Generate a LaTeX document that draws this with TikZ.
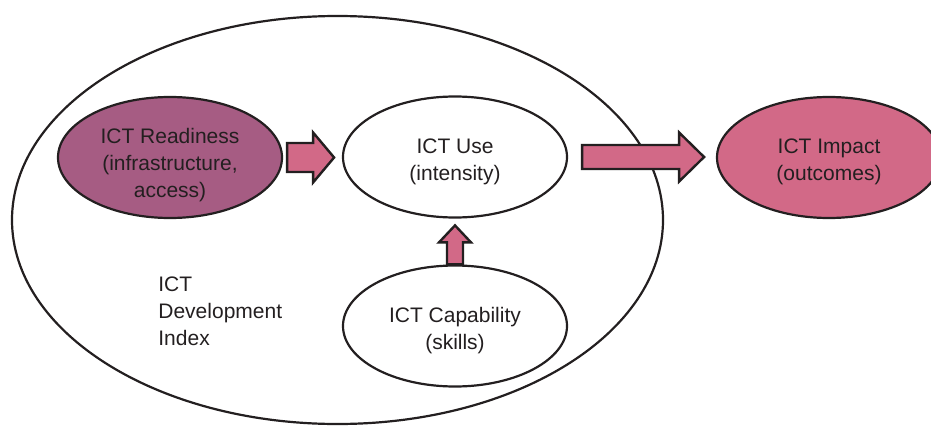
\documentclass[tikz,border=0pt]{standalone}
\usepackage{fontspec}
\setmainfont{Liberation Sans}
\usetikzlibrary{shapes,calc,positioning}

\definecolor{plum}{RGB}{166,92,131}
\definecolor{rose}{RGB}{210,105,135}
\definecolor{ink}{RGB}{35,31,32}

% fat block arrow: start, angle, length, shaft half width, head half width, head length
\newcommand{\blockarrow}[6]{%
  \draw[block arrow, shift={(#1)}, rotate=#2]
    (0,-#4) -- (#3-#6,-#4) -- (#3-#6,-#5) -- (#3,0) -- (#3-#6,#5) -- (#3-#6,#4) -- (0,#4) -- cycle;}

\begin{document}
\begin{tikzpicture}[x=1pt,y=-1pt,thick,
    main node/.style={ellipse,draw=ink,line width=2.2pt,inner sep=0pt,minimum width=224pt,minimum height=121pt},
    every label/.style={align=center,text=ink,inner sep=0pt,font=\fontsize{21}{27}\selectfont},
    block arrow/.style={draw=ink,fill=rose,line width=2.4pt,line join=miter}]

                \useasboundingbox (0,0) rectangle (931,428);

                \node[ellipse, draw=ink, line width=2.2pt, minimum width=651pt, minimum height=408pt] (idi) at (337.5,220) {};
                \node[anchor=north west, align=left, text=ink, font=\fontsize{21}{27}\selectfont, inner sep=0pt] (label) at (158,276) {ICT\\Development\\Index};

                \node[main node, fill=plum, label={[yshift=-8pt]center:{ICT Readiness\\(infrastructure,\\access)}}] (ready) at (170,157.5) {};
                \node[main node, fill=white, label={[yshift=-5pt]center:{ICT Use\\(intensity)}}] (use) at (455,157) {};
                \node[main node, fill=white, label={[yshift=-5pt]center:{ICT Capability\\(skills)}}] (cap) at (455,326) {};
                \node[main node, fill=rose, label={[yshift=-4pt]center:{ICT Impact\\(outcomes)}}] (impact) at (829,157.5) {};

                \blockarrow{$(ready.east)+(4,0)$}{0}{47}{14.5}{25}{21}
                \blockarrow{$(use.east)+(14,0)$}{0}{122}{12}{24.5}{25}
                \blockarrow{cap.north}{90}{39}{8}{16}{17}
            \end{tikzpicture}
\end{document}
